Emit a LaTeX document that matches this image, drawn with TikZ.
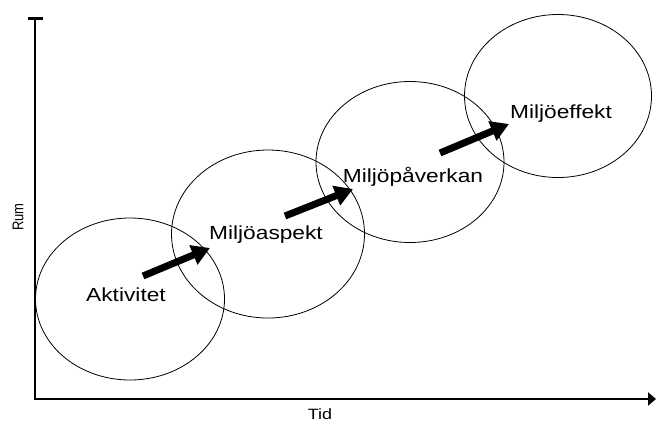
\documentclass[tikz,border=0pt]{standalone}
\usepackage{fontspec}
\setmainfont{Liberation Sans}
\newfontfamily\widesans[FakeStretch=1.2]{Liberation Sans}
\usetikzlibrary{arrows.meta}
\usetikzlibrary{shapes.geometric}
\tikzset{>=latex}
\tikzstyle{axis}=[line width=2.5bp,{Bar[width=15bp]}-{Triangle[length=8bp,width=13bp]}]
\tikzstyle{zone}=[draw,ellipse,line width=0.8bp,inner sep=0pt]
\tikzstyle{flow}=[line width=7bp,-{Triangle[length=18bp,width=20bp]}]
\tikzstyle{stage}=[font=\widesans\fontsize{19}{21}\selectfont,inner sep=0pt,anchor=base]

\begin{document}
\begin{tikzpicture}[x=1bp,y=-1bp]
  \useasboundingbox (0,0) rectangle (656,423);
  \coordinate (O) at (35,399);
  \coordinate (ytop) at (35,17);
  \coordinate (xend) at (656,399);
  
  % the four zones
  \node[zone,minimum width=189bp,minimum height=162bp] (aktE) at (130,299) {};
  \node[zone,minimum width=193bp,minimum height=168bp] (aspE) at (268,234) {};
  \node[zone,minimum width=188bp,minimum height=161bp] (pavE) at (410,162) {};
  \node[zone,minimum width=187bp,minimum height=163bp] (effE) at (558,96) {};
  
  \draw[axis] (ytop) -- (O) -- (xend);
  \node[font=\widesans\fontsize{15}{17}\selectfont,anchor=base] (tid) at (320,419) {Tid};
  \node[rotate=90,font=\fontsize{13}{15}\selectfont] (rum) at (18,217) {\scalebox{1}[1.2]{Rum}};
  
  \node[stage] (akt) at (126,301) {Aktivitet};
  \node[stage] (asp) at (266,239) {Miljöaspekt};
  \node[stage] (pav) at (413,182) {Miljöpåverkan};
  \node[stage] (eff) at (561,118) {Miljöeffekt};
  
  \coordinate (a1) at (143,276);
  \coordinate (b1) at (210,248);
  \coordinate (a2) at (285,216);
  \coordinate (b2) at (353,189);
  \coordinate (a3) at (440,153);
  \coordinate (b3) at (509,124);
  \draw[flow] (a1) -- (b1);
  \draw[flow] (a2) -- (b2);
  \draw[flow] (a3) -- (b3);
\end{tikzpicture}
\end{document}
